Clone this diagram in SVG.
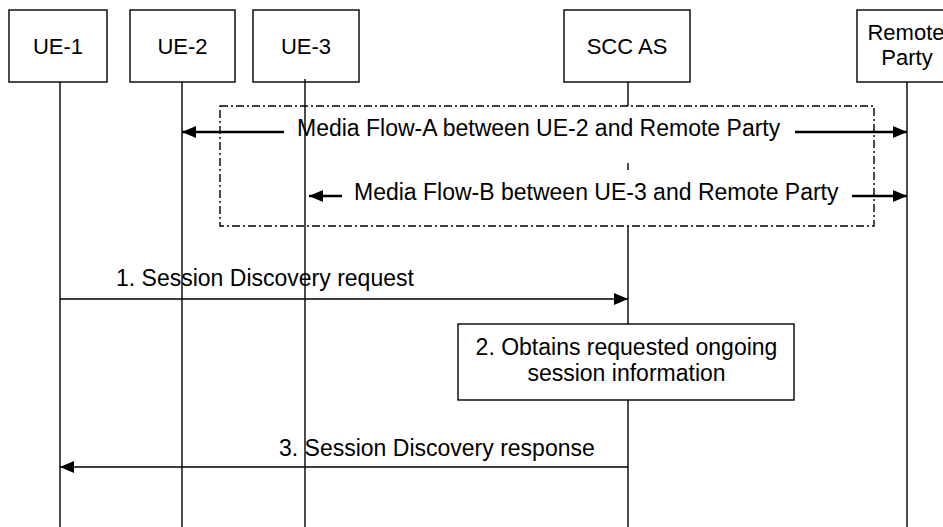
<svg xmlns="http://www.w3.org/2000/svg" width="943" height="527" viewBox="0 0 943 527">
<style>
  text { font-family: "Liberation Sans", Arial, sans-serif; font-size: 23px; fill: #000; }
  .lbl { font-size: 22px; }
  .box { fill: #fff; stroke: #000; stroke-width: 1.4; }
  .life { stroke: #000; stroke-width: 1.4; fill: none; }
  .flow { stroke: #000; stroke-width: 2.5; fill: none; }
  .msg { stroke: #000; stroke-width: 1.6; fill: none; }
  .frame { fill: none; stroke: #000; stroke-width: 1.4; stroke-dasharray: 8 3 2 3; }
  .c { text-anchor: middle; }
</style>
<defs>
  <marker id="ah" markerUnits="userSpaceOnUse" markerWidth="14" markerHeight="12" refX="14" refY="6" orient="auto">
    <path d="M0,0 L14,6 L0,12 z" fill="#000"/>
  </marker>
</defs>
<rect width="943" height="527" fill="#fff"/>

<g id="lifelines">
  <line class="life" x1="60" y1="82" x2="60" y2="527"/>
  <line class="life" x1="182" y1="82" x2="182" y2="527"/>
  <line class="life" x1="305" y1="79" x2="305" y2="527"/>
  <line class="life" x1="628" y1="82" x2="628" y2="106"/>
  <line class="life" x1="628" y1="163" x2="628" y2="170"/>
  <line class="life" x1="628" y1="226" x2="628" y2="527"/>
  <line class="life" x1="907" y1="82" x2="907" y2="527"/>
</g>

<g id="ue1"><rect class="box" x="9" y="10" width="98" height="72"/><text class="c lbl" x="58" y="54">UE-1</text></g>
<g id="ue2"><rect class="box" x="130" y="10" width="105" height="72"/><text class="c lbl" x="182.5" y="54">UE-2</text></g>
<g id="ue3"><rect class="box" x="253" y="10" width="106" height="72"/><text class="c lbl" x="306" y="54">UE-3</text></g>
<line class="life" x1="305" y1="79" x2="305" y2="82"/>
<g id="sccas"><rect class="box" x="564" y="10" width="126" height="72"/><text class="c lbl" x="627" y="54">SCC AS</text></g>
<g id="remote"><rect class="box" x="857" y="10" width="100" height="72"/><text class="c lbl" x="906" y="40">Remote</text><text class="c lbl" x="907" y="65">Party</text></g>

<g id="media-frame">
  <rect class="frame" x="220" y="106" width="654" height="120"/>
</g>

<g id="step2"><rect class="box" x="458" y="324" width="336" height="76"/><text class="c" x="626.5" y="355">2. Obtains requested ongoing</text><text class="c" x="626.5" y="381">session information</text></g>

<g id="connectors">
  <line class="flow" x1="284" y1="132" x2="182" y2="132" marker-end="url(#ah)"/>
  <line class="flow" x1="795" y1="132" x2="907" y2="132" marker-end="url(#ah)"/>
  <line class="flow" x1="342" y1="196" x2="309" y2="196" marker-end="url(#ah)"/>
  <line class="flow" x1="852" y1="196" x2="907" y2="196" marker-end="url(#ah)"/>
  <text x="297" y="136">Media Flow-A between UE-2 and Remote Party</text>
  <text x="354" y="200">Media Flow-B between UE-3 and Remote Party</text>
  <line class="msg" x1="60" y1="299" x2="628" y2="299" marker-end="url(#ah)"/>
  <text x="116" y="286">1. Session Discovery request</text>
  <line class="msg" x1="628" y1="467" x2="60" y2="467" marker-end="url(#ah)"/>
  <text x="279" y="456">3. Session Discovery response</text>
</g>
</svg>
